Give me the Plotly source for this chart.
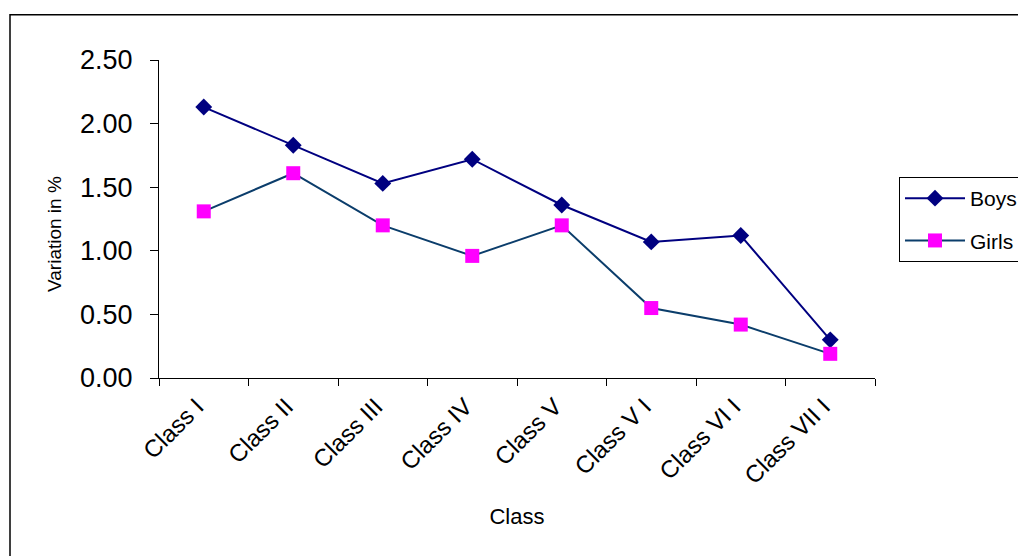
import plotly.graph_objects as go

categories = ["Class I", "Class II", "Class III", "Class IV", "Class V",
              "Class V I", "Class VI I", "Class VII I"]
boys = [2.13, 1.83, 1.53, 1.72, 1.36, 1.07, 1.12, 0.30]
girls = [1.31, 1.61, 1.20, 0.96, 1.20, 0.55, 0.42, 0.19]
y_ticks = [0.0, 0.5, 1.0, 1.5, 2.0, 2.5]
y_tick_labels = ["0.00", "0.50", "1.00", "1.50", "2.00", "2.50"]

FONT = "Arial, Liberation Sans, sans-serif"

# page body has an 8px margin, so the figure is drawn at (8, 8)
W, H = 1018, 548
L, T = 151, 52
PW, PH = 716, 318

fig = go.Figure()
fig.add_trace(go.Scatter(
    x=categories, y=boys, name="Boys", mode="lines+markers",
    legendgroup="boys",
    line=dict(color="#000080", width=2),
    marker=dict(symbol="diamond", size=13, color="#000080",
                line=dict(width=0)),
))
fig.add_trace(go.Scatter(
    x=categories, y=girls, name="Girls", mode="lines+markers",
    legendgroup="girls",
    line=dict(color="#0B3D6B", width=2),
    marker=dict(symbol="square", size=14, color="#FF00FF",
                line=dict(width=0)),
))

fig.update_layout(
    width=W, height=H,
    margin=dict(l=L, r=W - L - PW, t=T, b=H - T - PH, autoexpand=False),
    paper_bgcolor="white", plot_bgcolor="white",
    font=dict(family=FONT, color="black"),
    showlegend=True,
    legend=dict(
        x=(891 - L) / PW, y=(370 - 169) / PH, xanchor="left", yanchor="top",
        bordercolor="black", borderwidth=1, bgcolor="white",
        font=dict(size=21, family=FONT),
        itemwidth=60, tracegroupgap=12, traceorder="grouped",
    ),
    xaxis=dict(
        type="category", range=[-0.5, 7.5],
        showline=True, linecolor="black", linewidth=1,
        ticks="outside", tickson="boundaries", ticklen=7,
        tickcolor="black", tickwidth=1,
        tickangle=-45, tickfont=dict(size=24, family=FONT),
        ticklabelshift=-7, ticklabelstandoff=4,
        showgrid=False, zeroline=False,
        title=dict(text="Class", font=dict(size=22, family=FONT),
                   standoff=20),
    ),
    yaxis=dict(
        range=[0, 2.5], tickvals=y_ticks, ticktext=y_tick_labels,
        showline=True, linecolor="black", linewidth=1,
        ticks="outside", ticklen=8, tickcolor="black", tickwidth=1,
        tickfont=dict(size=27, family=FONT), ticklabelstandoff=12,
        showgrid=False, zeroline=False,
    ),
    annotations=[dict(
        text="Variation in %", textangle=-90, showarrow=False,
        xref="paper", yref="paper",
        x=(46 - L) / PW, y=(370 - 226) / PH,
        xanchor="center", yanchor="middle",
        font=dict(size=19, family=FONT, color="black"),
    )],
)

# outer chart-area border
fig.add_shape(type="rect", xref="paper", yref="paper",
              x0=(2 - L) / PW, x1=(1040 - L) / PW,
              y0=(370 - 570) / PH, y1=(370 - 6.7) / PH,
              line=dict(color="black", width=1.5), fillcolor="rgba(0,0,0,0)",
              layer="below")

fig.write_html("out.html")
